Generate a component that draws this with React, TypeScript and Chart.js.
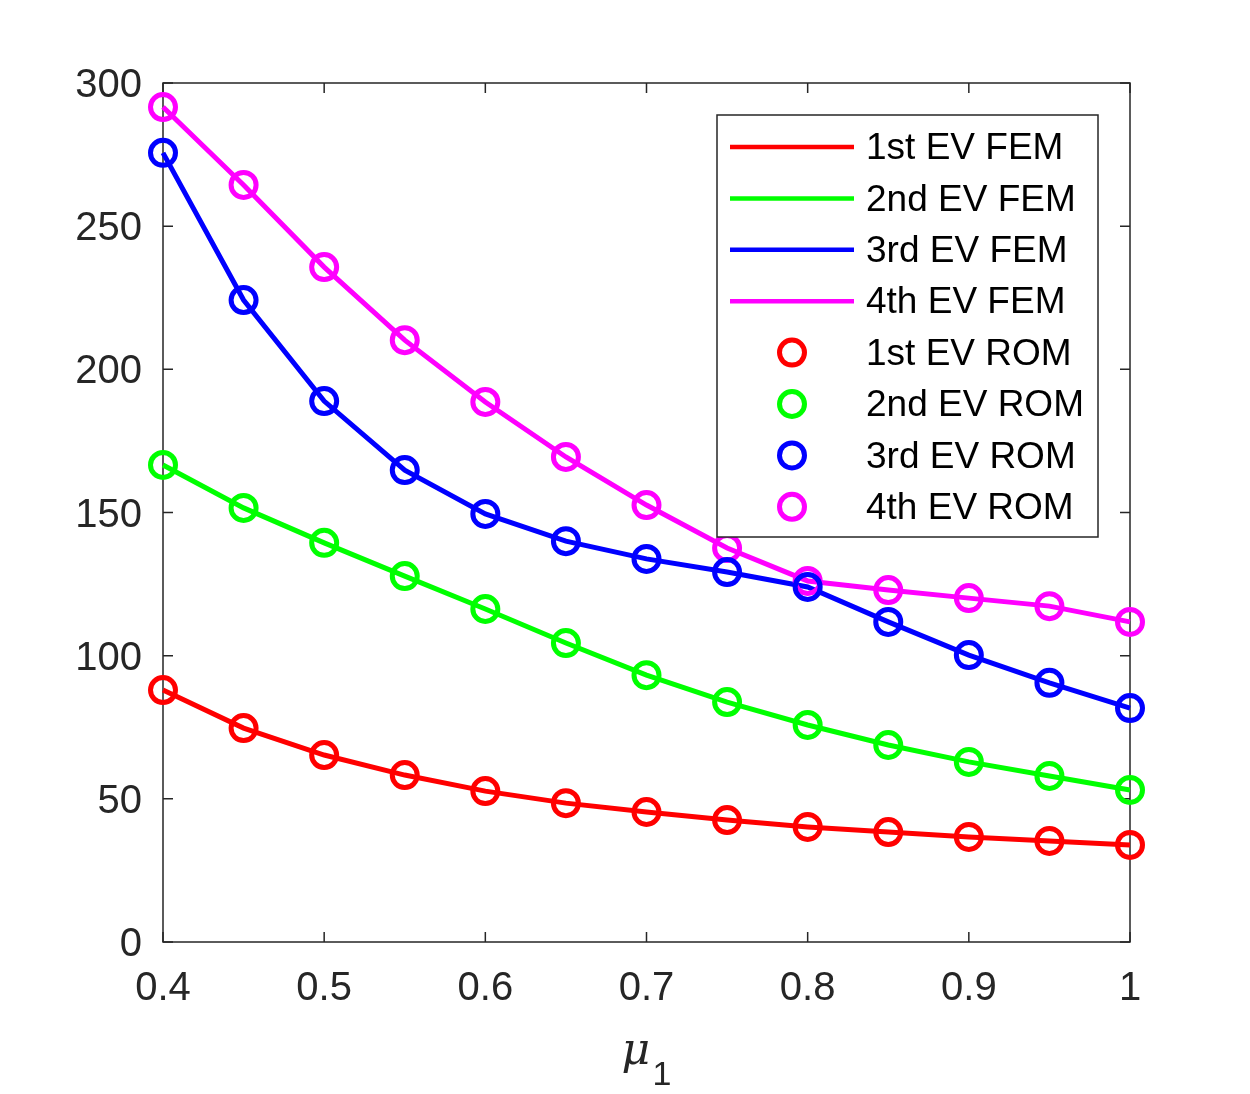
import { Chart, registerables } from 'chart.js';
import { useEffect, useRef } from 'react';

Chart.register(...registerables);

const mu = [0.4, 0.45, 0.5, 0.55, 0.6, 0.65, 0.7, 0.75, 0.8, 0.85, 0.9, 0.95, 1.0];
const ev1 = [88.0, 74.7, 65.3, 58.3, 52.7, 48.5, 45.4, 42.6, 40.2, 38.4, 36.7, 35.3, 33.9];
const ev2 = [166.6, 151.6, 139.4, 127.8, 116.3, 104.4, 93.2, 83.8, 75.8, 68.8, 62.9, 58.0, 53.1];
const ev3 = [275.6, 224.2, 188.9, 164.8, 149.5, 140.0, 133.8, 129.2, 124.0, 111.8, 100.2, 90.5, 81.7];
const ev4 = [291.6, 264.4, 235.7, 210.2, 188.6, 169.4, 152.6, 137.6, 126.1, 122.9, 120.1, 117.3, 111.8];

const seriesNames = ['1st EV', '2nd EV', '3rd EV', '4th EV'];
const seriesColors = ['#ff0000', '#00ff00', '#0000ff', '#ff00ff'];
const seriesValues = [ev1, ev2, ev3, ev4];

const FONT = '"Liberation Sans", Arial, Helvetica, sans-serif';
const AXIS_COLOR = '#262626';

const toPoints = (vals: number[]) => vals.map((v, i) => ({ x: mu[i], y: v }));

const framePlugin = {
    id: 'matlabFrame',
    beforeDatasetsDraw: (chart: any) => {
        const { ctx, chartArea, scales } = chart;
        const { left, right, top, bottom } = chartArea;
        ctx.save();
        ctx.strokeStyle = AXIS_COLOR;
        ctx.lineWidth = 1.5;
        ctx.strokeRect(left, top, right - left, bottom - top);
        const tick = 10;
        ctx.beginPath();
        scales.x.ticks.forEach((t: any) => {
            const px = scales.x.getPixelForValue(t.value);
            ctx.moveTo(px, bottom);
            ctx.lineTo(px, bottom - tick);
            ctx.moveTo(px, top);
            ctx.lineTo(px, top + tick);
        });
        scales.y.ticks.forEach((t: any) => {
            const py = scales.y.getPixelForValue(t.value);
            ctx.moveTo(left, py);
            ctx.lineTo(left + tick, py);
            ctx.moveTo(right, py);
            ctx.lineTo(right - tick, py);
        });
        ctx.stroke();
        ctx.restore();
    },
    afterDraw: (chart: any) => {
        const { ctx, chartArea } = chart;
        ctx.save();

        // legend box
        const bx = 717;
        const by = 115;
        const bw = 381;
        const bh = 422;
        ctx.fillStyle = '#ffffff';
        ctx.fillRect(bx, by, bw, bh);
        ctx.strokeStyle = AXIS_COLOR;
        ctx.lineWidth = 1.5;
        ctx.strokeRect(bx, by, bw, bh);

        ctx.font = `37px ${FONT}`;
        ctx.textBaseline = 'middle';
        ctx.textAlign = 'left';
        const rowH = 51.4;
        const labels = [
            ...seriesNames.map((n) => `${n} FEM`),
            ...seriesNames.map((n) => `${n} ROM`),
        ];
        labels.forEach((label, i) => {
            const y = 147 + i * rowH;
            const color = seriesColors[i % 4];
            ctx.strokeStyle = color;
            if (i < 4) {
                ctx.lineWidth = 4.5;
                ctx.beginPath();
                ctx.moveTo(730, y);
                ctx.lineTo(854, y);
                ctx.stroke();
            } else {
                ctx.lineWidth = 5;
                ctx.beginPath();
                ctx.arc(792, y, 12.5, 0, Math.PI * 2);
                ctx.stroke();
            }
            ctx.fillStyle = '#000000';
            ctx.fillText(label, 866, y + 2);
        });

        // x-axis label: mu_1
        const cx = (chartArea.left + chartArea.right) / 2;
        ctx.fillStyle = AXIS_COLOR;
        ctx.textBaseline = 'alphabetic';
        ctx.font = `italic 44px "DejaVu Serif", "Liberation Serif", serif`;
        ctx.fillText('\u03bc', cx - 25, 1064);
        ctx.font = `34px ${FONT}`;
        ctx.fillText('1', cx + 6, 1085);

        ctx.restore();
    },
};

const App = () => {
    const chartRef = useRef<HTMLCanvasElement>(null);

    useEffect(() => {
        const ctx = chartRef.current?.getContext('2d');
        if (!ctx) return;

        const femSets = seriesValues.map((vals, i) => ({
            label: `${seriesNames[i]} FEM`,
            data: toPoints(vals),
            borderColor: seriesColors[i],
            backgroundColor: seriesColors[i],
            borderWidth: 5,
            pointRadius: 0,
            showLine: true,
            tension: 0,
            clip: false as any,
            order: 1,
        }));
        const romSets = seriesValues.map((vals, i) => ({
            label: `${seriesNames[i]} ROM`,
            data: toPoints(vals),
            borderColor: seriesColors[i],
            backgroundColor: 'rgba(0,0,0,0)',
            pointBorderColor: seriesColors[i],
            pointBackgroundColor: 'rgba(0,0,0,0)',
            pointRadius: 12.5,
            pointBorderWidth: 5,
            showLine: false,
            clip: false as any,
            order: 0,
        }));

        const chart = new Chart(ctx, {
            type: 'scatter',
            data: { datasets: [...femSets, ...romSets] as any },
            options: {
                responsive: false,
                animation: false,
                devicePixelRatio: 1,
                layout: { padding: { left: 0, top: 83, right: 120, bottom: 0 } },
                plugins: {
                    legend: { display: false },
                    tooltip: { enabled: false },
                },
                scales: {
                    x: {
                        type: 'linear',
                        min: 0.4,
                        max: 1,
                        grid: { display: false, drawTicks: false },
                        border: { display: false },
                        ticks: {
                            stepSize: 0.1,
                            color: AXIS_COLOR,
                            padding: 23,
                            maxRotation: 0,
                            font: { family: FONT, size: 40 },
                            callback: (value: any) => `${Number(Number(value).toFixed(2))}`,
                        },
                        afterFit: (scale: any) => {
                            scale.height = 152;
                        },
                    },
                    y: {
                        type: 'linear',
                        min: 0,
                        max: 300,
                        grid: { display: false, drawTicks: false },
                        border: { display: false },
                        ticks: {
                            stepSize: 50,
                            color: AXIS_COLOR,
                            padding: 21,
                            labelOffset: 3,
                            font: { family: FONT, size: 40 },
                        },
                        afterFit: (scale: any) => {
                            scale.width = 163;
                        },
                    },
                },
            },
            plugins: [framePlugin],
        });

        return () => {
            chart.destroy();
        };
    }, []);

    return (
        <div style={{ position: 'absolute', left: 0, top: 0, width: 1250, height: 1094, background: '#fff' }}>
            <canvas ref={chartRef} width={1250} height={1094} />
        </div>
    );
};

export default App;
